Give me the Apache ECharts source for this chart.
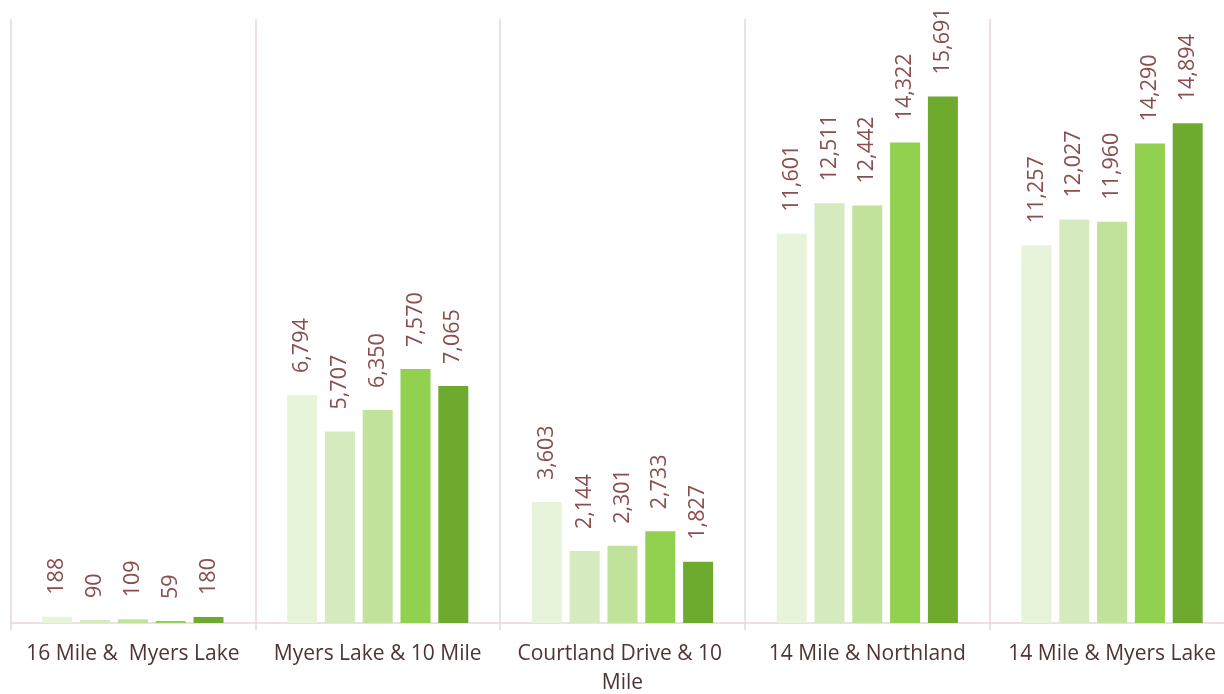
<!DOCTYPE html>
<html>
<head>
<meta charset="utf-8">
<script src="https://cdn.jsdelivr.net/npm/echarts@6/dist/echarts.min.js"></script>
<style>
html,body{margin:0;padding:0;background:#fff;overflow:hidden;}
#chart{width:1224px;height:694px;}
</style>
</head>
<body>
<div id="chart"></div>
<script>
const categories = ["16 Mile &  Myers Lake", "Myers Lake & 10 Mile", "Courtland Drive & 10 Mile", "14 Mile & Northland", "14 Mile & Myers Lake"];
const seriesNames = ["Series 1", "Series 2", "Series 3", "Series 4", "Series 5"];
const values1 = [188, 6794, 3603, 11601, 11257];
const values2 = [90, 5707, 2144, 12511, 12027];
const values3 = [109, 6350, 2301, 12442, 11960];
const values4 = [59, 7570, 2733, 14322, 14290];
const values5 = [180, 7065, 1827, 15691, 14894];
const allValues = [values1, values2, values3, values4, values5];
const colors = ["#E7F4DA", "#D5EBBF", "#C1E29B", "#92D050", "#6EAA2E"];

const chart = echarts.init(document.getElementById('chart'));
const font = '"Open Sans", "Noto Sans", sans-serif';
chart.setOption({
  animation: false,
  grid: {left: 10.5, width: 1224, top: 19, bottom: 71, containLabel: false, outerBoundsMode: 'none'},
  xAxis: {
    type: 'category',
    data: categories,
    boundaryGap: true,
    axisLine: {show: true, lineStyle: {color: '#E6D6D9', width: 1.5}},
    axisTick: {show: true, length: 7, lineStyle: {color: '#E6D6D9', width: 1.5}},
    splitLine: {show: true, lineStyle: {color: '#E6D6D9', width: 1.5}},
    axisLabel: {
      interval: 0, color: '#4F3434', fontFamily: font, fontSize: 21,
      margin: 17, width: 225, overflow: 'break', lineHeight: 29
    }
  },
  yAxis: {
    type: 'value', min: 0, max: 18000, interval: 2000,
    show: false, splitLine: {show: false}
  },
  series: allValues.map((vals, i) => ({
    name: seriesNames[i],
    type: 'bar',
    data: vals,
    barWidth: 30,
    barGap: '26%',
    itemStyle: {color: colors[i]},
    label: {
      show: true, position: 'top', rotate: 90, align: 'left', verticalAlign: 'middle',
      distance: 22, color: '#8A4E4E', fontFamily: font, fontSize: 21.5,
      formatter: p => p.value.toLocaleString('en-US')
    }
  }))
});
</script>
</body>
</html>
